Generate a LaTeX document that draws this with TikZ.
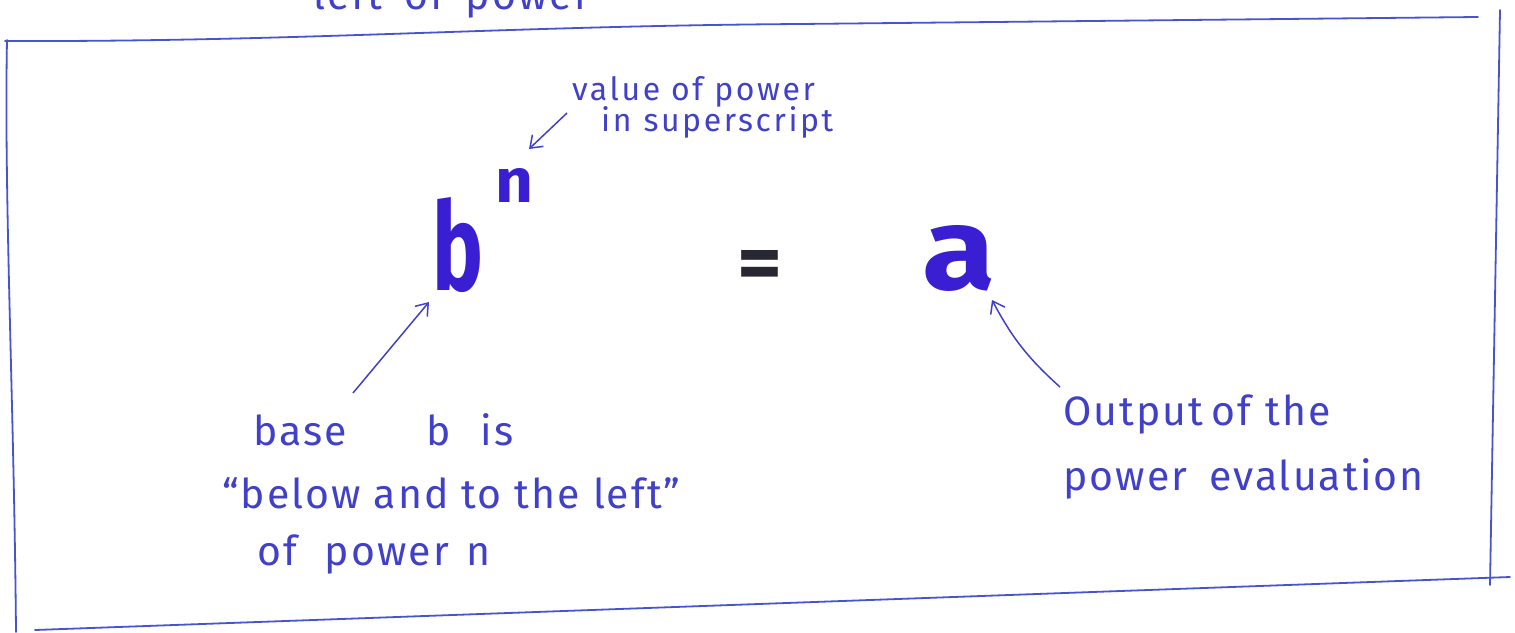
\documentclass[tikz,border=0pt]{standalone}
\usepackage{fontspec}
\usepackage{graphicx}
\setmainfont{Fira Sans}
\newfontfamily\handfont[LetterSpace=5]{Fira Sans}
\newfontfamily\handsmall[LetterSpace=8]{Fira Sans}
\usetikzlibrary{arrows.meta}
\definecolor{ink}{RGB}{64,64,200}
\definecolor{marker}{RGB}{58,30,210}
\definecolor{framecol}{RGB}{70,85,205}
\definecolor{dark}{RGB}{40,40,50}
\begin{document}
\begin{tikzpicture}[x=1pt,y=-1pt,
  lab/.style={inner sep=0pt, anchor=base west, text=ink, font=\handfont\fontsize{41}{48}\selectfont},
  smalllab/.style={lab, font=\handsmall\fontsize{32}{38}\selectfont},
  big/.style={inner sep=0pt, anchor=south west, text=marker, font=\bfseries},
  pen/.style={draw=ink, line width=1.5pt, -{Straight Barb[length=11pt,width=16pt,line width=1.5pt]}},
  frameline/.style={draw=framecol, line width=1.8pt, line cap=round}]
\useasboundingbox (0,0) rectangle (1515,632);
% frame
\draw[frameline] (5,41) .. controls (300,42) and (500,26) .. (800,24) -- (1478,17);
\draw[frameline] (1500,10) -- (1490,585);
\draw[frameline] (35,630) -- (1510,577);
\draw[frameline] (7,40) .. controls (4,200) and (14,400) .. (16,632);
% clipped line of previous text
\begin{scope}
\clip (0,0) rectangle (1515,30);
\node[lab] (lop) at (313,9) {left\hspace{22pt}of\hspace{22pt}power};
\end{scope}
% big formula
\node[big] (b) at (432,293) {\resizebox{51pt}{93pt}{b}};
\node[big] (n) at (495,203) {\resizebox{38pt}{34pt}{n}};
\node[inner sep=0pt, anchor=base west, text=dark, font=\bfseries] (eq) at (737,290) {\resizebox{45pt}{40pt}{=}};
\node[big] (a) at (922,292) {\resizebox{73pt}{64pt}{a}};
% labels
\node[smalllab] (vp) at (572,100) {value of power};
\node[smalllab] (sup) at (601,131) {in\hspace{12pt}superscript};
\node[lab] (base) at (253,445) {base\hspace{80pt}b\hspace{30pt}is};
\node[lab] (below) at (222,508) {“below and to the left”};
\node[lab] (ofp) at (257,565) {of\hspace{28pt}power\hspace{18pt}n};
\node[lab] (out) at (1063,425) {Output\hspace{8pt}of\hspace{14pt}the};
\node[lab] (pe) at (1063,490) {power\hspace{22pt}evaluation};
% arrows
\coordinate (t1) at (567,113);
\coordinate (h1) at (529,149);
\coordinate (t2) at (353,393);
\coordinate (h2) at (429,302);
\coordinate (t3) at (1060,387);
\coordinate (h3) at (992,300);
\draw[pen] (t1) -- (h1);
\draw[pen] (t2) -- (h2);
\draw[pen] (t3) to[bend left=10] (h3);
\end{tikzpicture}
\end{document}
